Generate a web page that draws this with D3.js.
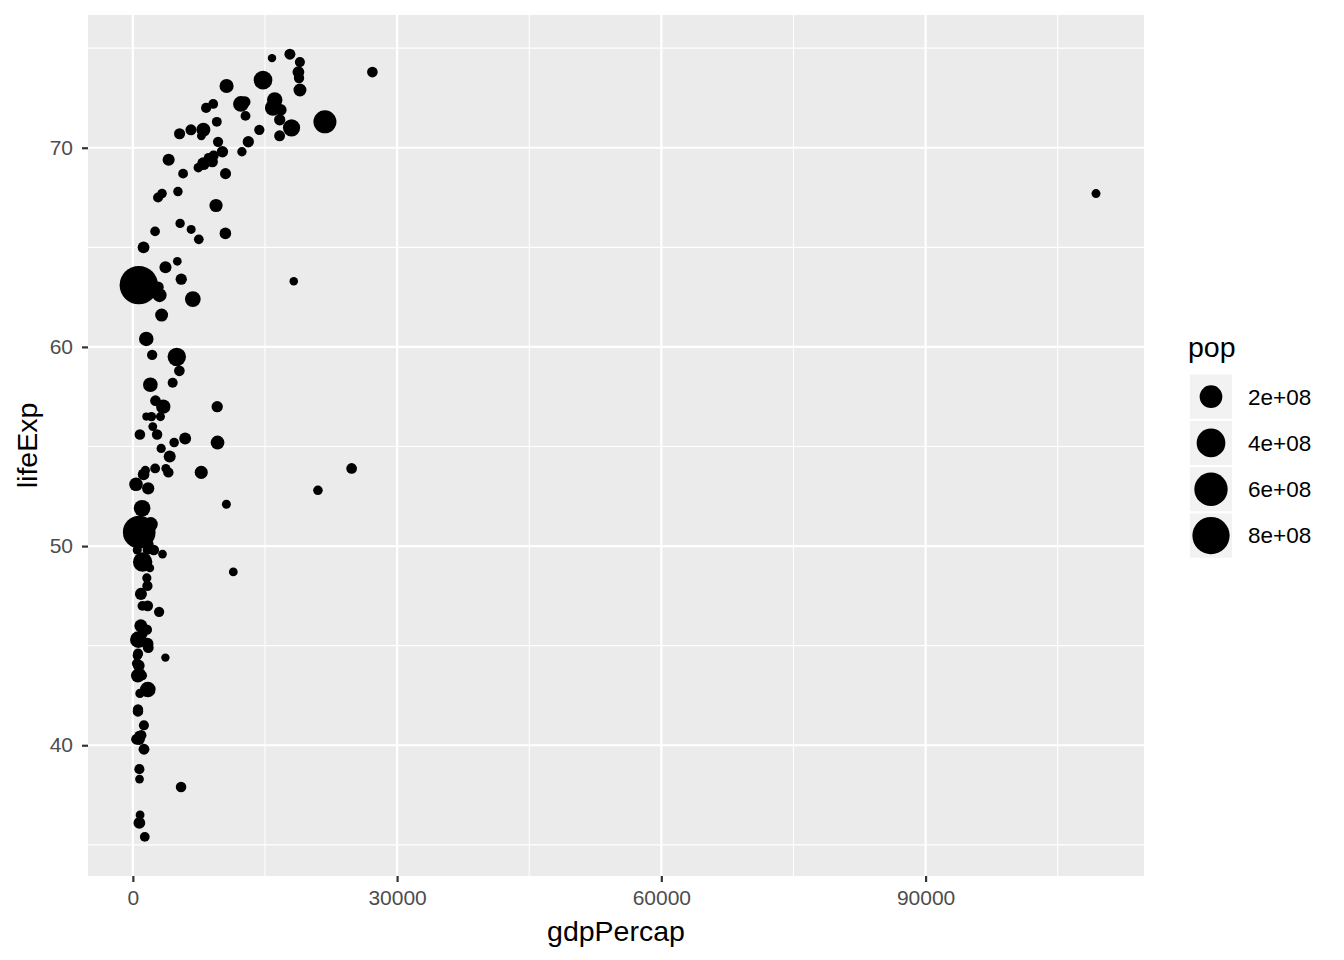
<!DOCTYPE html>
<html>
<head>
<meta charset="utf-8">
<script src="https://cdn.jsdelivr.net/npm/d3@7"></script>
<style>
  body { margin: 0; background: #fff; }
  text { font-family: "Liberation Sans", Arial, Helvetica, sans-serif; }
</style>
</head>
<body>
<div id="chart"></div>
<script>
// gapminder, one year
let country = ["Afghanistan","Albania","Algeria","Angola","Argentina","Australia","Austria","Bahrain","Bangladesh","Belgium",
  "Benin","Bolivia","Bosnia and Herzegovina","Botswana","Brazil","Bulgaria","Burkina Faso","Burundi","Cambodia","Cameroon",
  "Canada","Central African Republic","Chad","Chile","China","Colombia","Comoros","Congo, Dem. Rep.","Congo, Rep.","Costa Rica",
  "Cote d'Ivoire","Croatia","Cuba","Czech Republic","Denmark","Djibouti","Dominican Republic","Ecuador","Egypt","El Salvador",
  "Equatorial Guinea","Eritrea","Ethiopia","Finland","France","Gabon","Gambia","Germany","Ghana","Greece",
  "Guatemala","Guinea","Guinea-Bissau","Haiti","Honduras","Hong Kong","Hungary","Iceland","India","Indonesia",
  "Iran","Iraq","Ireland","Israel","Italy","Jamaica","Japan","Jordan","Kenya","Korea, Dem. Rep.",
  "Korea, Rep.","Kuwait","Lebanon","Lesotho","Liberia","Libya","Madagascar","Malawi","Malaysia","Mali",
  "Mauritania","Mauritius","Mexico","Mongolia","Montenegro","Morocco","Mozambique","Myanmar","Namibia","Nepal",
  "Netherlands","New Zealand","Nicaragua","Niger","Nigeria","Norway","Oman","Pakistan","Panama","Paraguay",
  "Peru","Philippines","Poland","Portugal","Puerto Rico","Reunion","Romania","Rwanda","Sao Tome and Principe","Saudi Arabia",
  "Senegal","Serbia","Sierra Leone","Singapore","Slovak Republic","Slovenia","Somalia","South Africa","Spain","Sri Lanka",
  "Sudan","Swaziland","Sweden","Switzerland","Syria","Taiwan","Tanzania","Thailand","Togo","Trinidad and Tobago",
  "Tunisia","Turkey","Uganda","United Kingdom","United States","Uruguay","Venezuela","Vietnam","West Bank and Gaza","Yemen, Rep.",
  "Zambia","Zimbabwe"];

let gdpPercap = [740,3313,4183,5473,9443,16789,16662,18269,630,16672,
  1086,2980,2860,2264,4986,6597,855,464,422,1684,
  18971,1070,1104,5494,677,3265,1938,905,3213,5118,
  2378,9164,5305,13108,18866,3694,2190,5281,2024,4520,
  672,514,566,14359,16107,11402,756,18016,1178,12725,
  4031,742,820,1654,2530,8316,10169,15798,724,1111,
  9614,9576,9531,12787,12269,7434,14779,2111,1222,3702,
  3031,109348,7486,497,803,21012,1749,585,2849,581,
  1587,2575,6809,1422,7778,1739,725,357,3746,675,
  18795,16046,4689,954,1698,18965,10618,1050,5364,2523,
  5938,1989,8007,9022,9123,5048,8011,591,1533,24837,
  1598,10522,1354,8598,9674,12383,1255,7766,10639,1213,
  1660,3365,17832,27195,2571,4063,916,1524,1650,6620,
  2753,3451,951,15895,21806,5703,10505,700,3133,1265,
  1774,799];

let lifeExp = [36.1,67.7,54.5,37.9,67.1,71.9,70.6,63.3,45.3,71.4,
  47.0,46.7,67.5,56.0,59.5,70.9,43.6,44.1,40.3,47.0,
  72.9,43.5,45.6,63.4,63.1,61.6,48.9,46.0,54.9,67.8,
  49.8,69.6,70.7,70.3,73.5,44.4,59.6,58.8,51.1,58.2,
  40.5,44.5,43.5,70.9,72.4,48.7,38.3,71.0,51.8,72.3,
  53.7,38.8,36.5,48.0,53.9,72.0,69.8,74.5,50.7,49.2,
  55.2,57.0,71.3,71.6,72.2,69.0,73.4,56.5,53.6,64.0,
  62.6,67.7,65.4,49.8,42.6,52.8,44.9,41.8,63.0,41.7,
  48.4,62.9,62.4,53.8,70.6,52.9,40.3,53.1,53.9,44.0,
  73.8,71.9,55.2,40.5,42.8,74.3,52.1,51.9,66.2,65.8,
  55.4,58.1,70.9,69.3,72.2,64.3,69.2,44.6,56.5,53.9,
  45.8,68.7,35.4,69.5,70.3,69.8,41.0,53.7,73.1,65.0,
  45.1,49.6,74.7,73.8,57.3,69.4,47.6,60.4,49.8,65.9,
  55.6,57.0,51.0,72.0,71.3,68.7,65.7,50.3,56.5,39.8,
  50.1,55.6];

// population, millions
let popM = [13.08,2.26,14.76,5.89,24.78,13.18,7.54,0.23,70.76,9.71,
  2.76,4.57,3.82,0.69,100.84,8.58,5.43,3.53,7.45,7.02,
  22.28,2.11,3.90,9.72,862.03,22.51,0.25,23.01,1.34,1.83,
  6.07,4.23,8.83,9.86,4.99,0.18,4.67,6.30,34.81,3.79,
  0.28,2.26,30.77,4.64,51.73,0.54,0.52,78.72,9.35,8.89,
  5.15,3.90,0.63,4.70,2.97,4.12,10.39,0.21,567.00,121.28,
  30.61,10.06,3.02,3.10,54.37,2.00,107.19,1.61,12.04,14.78,
  33.51,0.84,2.68,1.12,1.48,2.18,7.08,4.73,11.44,5.83,
  1.33,0.85,55.98,1.32,0.53,16.66,9.81,28.47,0.82,12.41,
  13.33,2.93,2.18,5.06,53.74,3.93,0.83,69.33,1.62,2.61,
  13.95,40.85,33.04,8.97,2.85,0.46,20.66,3.99,0.077,6.47,
  4.59,8.31,2.88,2.15,4.59,1.69,3.84,23.94,34.51,13.02,
  14.60,0.48,8.12,6.40,6.70,15.23,14.71,39.28,2.06,0.98,
  5.30,37.49,10.19,56.08,209.90,2.83,11.52,44.66,1.09,7.41,
  4.51,5.86];

let xTicks = [0, 30000, 60000, 90000];
let xMinor = [15000, 45000, 75000, 105000];
let yTicks = [40, 50, 60, 70];
let yMinor = [35, 45, 55, 65, 75];
let popBreaks = [2e8, 4e8, 6e8, 8e8];
let popLabels = ["2e+08", "4e+08", "6e+08", "8e+08"];

let data = country.map(function(c, i) {
  return { country: c, gdpPercap: gdpPercap[i], lifeExp: lifeExp[i], pop: popM[i] * 1e6 };
});

let width = 1344;
let height = 960;
let panel = { left: 88, right: 1144, top: 15, bottom: 876 };

// ggplot style 5% expansion
function expand(ext) {
  let pad = (ext[1] - ext[0]) * 0.05;
  return [ext[0] - pad, ext[1] + pad];
}

let x = d3.scaleLinear()
  .domain(expand(d3.extent(data, d => d.gdpPercap)))
  .range([panel.left, panel.right]);

let y = d3.scaleLinear()
  .domain(expand(d3.extent(data, d => d.lifeExp)))
  .range([panel.bottom, panel.top]);

// scale_size: area from 1 to 6, then to pixels
let popExt = d3.extent(data, d => d.pop);
let t = d3.scaleLinear().domain(popExt).range([0, 1]).clamp(true);
function radius(p) {
  let size = 1 + 5 * Math.sqrt(t(p));
  return 1.065 * (2.845 * size + 0.945);
}

let svg = d3.select("#chart").append("svg")
  .attr("width", width)
  .attr("height", height);

svg.append("rect")
  .attr("x", panel.left)
  .attr("y", panel.top)
  .attr("width", panel.right - panel.left)
  .attr("height", panel.bottom - panel.top)
  .attr("fill", "#EBEBEB");

let grid = svg.append("g");

grid.selectAll(".xminor").data(xMinor).enter().append("line")
  .attr("x1", d => x(d)).attr("x2", d => x(d))
  .attr("y1", panel.top).attr("y2", panel.bottom)
  .attr("stroke", "#fff").attr("stroke-width", 1.1);

grid.selectAll(".yminor").data(yMinor).enter().append("line")
  .attr("y1", d => y(d)).attr("y2", d => y(d))
  .attr("x1", panel.left).attr("x2", panel.right)
  .attr("stroke", "#fff").attr("stroke-width", 1.1);

grid.selectAll(".xmajor").data(xTicks).enter().append("line")
  .attr("x1", d => x(d)).attr("x2", d => x(d))
  .attr("y1", panel.top).attr("y2", panel.bottom)
  .attr("stroke", "#fff").attr("stroke-width", 2.2);

grid.selectAll(".ymajor").data(yTicks).enter().append("line")
  .attr("y1", d => y(d)).attr("y2", d => y(d))
  .attr("x1", panel.left).attr("x2", panel.right)
  .attr("stroke", "#fff").attr("stroke-width", 2.2);

svg.append("g").selectAll("circle")
  .data(data)
  .enter().append("circle")
  .attr("cx", d => x(d.gdpPercap))
  .attr("cy", d => y(d.lifeExp))
  .attr("r", d => radius(d.pop))
  .attr("fill", "#000");

// axes
let xAxis = svg.append("g")
  .attr("transform", "translate(0," + panel.bottom + ")")
  .call(d3.axisBottom(x).tickValues(xTicks).tickFormat(d3.format("d")).tickSize(6).tickPadding(8));

let yAxis = svg.append("g")
  .attr("transform", "translate(" + panel.left + ",0)")
  .call(d3.axisLeft(y).tickValues(yTicks).tickSize(6).tickPadding(9));

[xAxis, yAxis].forEach(function(a) {
  a.select(".domain").remove();
  a.selectAll(".tick line").attr("stroke", "#333").attr("stroke-width", 2.2);
  a.selectAll(".tick text")
    .attr("fill", "#4D4D4D")
    .style("font-size", "21px")
    .style("font-family", "'Liberation Sans', Arial, sans-serif");
});

svg.append("text")
  .attr("x", (panel.left + panel.right) / 2)
  .attr("y", 941)
  .attr("text-anchor", "middle")
  .style("font-size", "28.5px")
  .text("gdpPercap");

svg.append("text")
  .attr("transform", "translate(37," + (panel.top + panel.bottom) / 2 + ") rotate(-90)")
  .attr("text-anchor", "middle")
  .style("font-size", "28.5px")
  .text("lifeExp");

// legend
let legend = svg.append("g");

legend.append("text")
  .attr("x", 1188)
  .attr("y", 357)
  .style("font-size", "28.5px")
  .text("pop");

let keyH = 46.3;
let keyTop = 373.5;

let key = legend.selectAll(".key")
  .data(popBreaks)
  .enter().append("g")
  .attr("transform", (d, i) => "translate(1189," + (keyTop + i * keyH) + ")");

key.append("rect")
  .attr("width", 44)
  .attr("height", keyH)
  .attr("fill", "#F2F2F2")
  .attr("stroke", "#fff")
  .attr("stroke-width", 2);

key.append("circle")
  .attr("cx", 22)
  .attr("cy", keyH / 2)
  .attr("r", d => radius(d))
  .attr("fill", "#000");

key.append("text")
  .attr("x", 59)
  .attr("y", keyH / 2)
  .attr("dy", "0.35em")
  .style("font-size", "22.5px")
  .text((d, i) => popLabels[i]);
</script>
</body>
</html>
